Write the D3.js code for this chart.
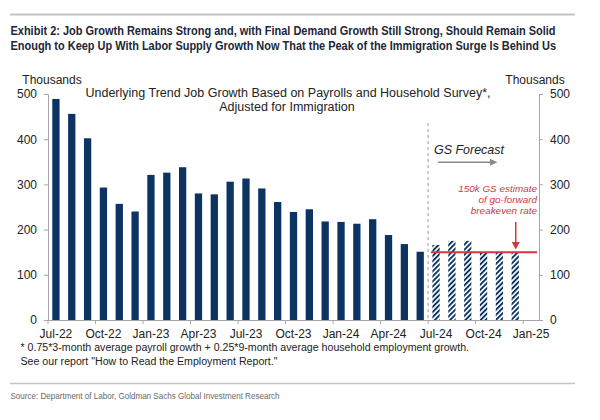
<!DOCTYPE html>
<html><head><meta charset="utf-8">
<script src="https://cdn.jsdelivr.net/npm/d3@7/dist/d3.min.js"></script>
<style>
body{margin:0;background:#fff;}
svg{display:block;font-family:"Liberation Sans",Arial,sans-serif;}
</style></head>
<body><svg id="c" width="600" height="420"></svg>
<script>
const months = ["Jul-22","Aug-22","Sep-22","Oct-22","Nov-22","Dec-22","Jan-23","Feb-23","Mar-23","Apr-23","May-23","Jun-23","Jul-23","Aug-23","Sep-23","Oct-23","Nov-23","Dec-23","Jan-24","Feb-24","Mar-24","Apr-24","May-24","Jun-24","Jul-24","Aug-24","Sep-24","Oct-24","Nov-24","Dec-24","Jan-25"];
const actualMonths = months.slice(0,24);
const actualValues = [489,456,402,293,257,240,321,326,338,280,278,306,313,291,261,239,245,218,217,213,223,188,168,151];
const forecastMonths = ["Jul-24","Aug-24","Sep-24","Oct-24","Nov-24","Dec-24"];
const forecastValues = [166,175,175,150,150,150];
const yTicks = [0,100,200,300,400,500];
const xTickLabels = ["Jul-22","Oct-22","Jan-23","Apr-23","Jul-23","Oct-23","Jan-24","Apr-24","Jul-24","Oct-24","Jan-25"];
const breakeven = 150;

const navy = "#0c3361", red = "#d2373d", axisCol = "#a6a6a6", txt = "#222";
const svg = d3.select("#c");

// shrink/grow a text's font-size so its natural width matches target
function fit(sel, target){
  const n = sel.node(); const fs = parseFloat(sel.attr("font-size"));
  const w = n.getComputedTextLength();
  if (w > 0) sel.attr("font-size", (fs*target/w).toFixed(2));
  return sel;
}
// scale horizontally (condensed look) to reach target width
function squeeze(g, target){
  const t = g.select("text"); const w = t.node().getComputedTextLength();
  const sx = target / w;
  g.attr("transform", g.attr("transform") + ` scale(${sx},1)`);
}

const defs = svg.append("defs");
const pat = defs.append("pattern").attr("id","hatch").attr("patternUnits","userSpaceOnUse")
  .attr("width",3.6).attr("height",3.6).attr("patternTransform","rotate(45)");
pat.append("rect").attr("width",3.6).attr("height",3.6).attr("fill","#fff");
pat.append("rect").attr("width",1.9).attr("height",3.6).attr("fill",navy);

const x = d3.scaleBand().domain(months).range([48,539]).paddingInner(0.54).paddingOuter(0.27);
const y = d3.scaleLinear().domain([0,500]).range([320,94]);
const step = x.step();

// rules
svg.append("line").attr("x1",10).attr("x2",575).attr("y1",14.5).attr("y2",14.5).attr("stroke","#c4c4c4").attr("stroke-width",2);
svg.append("line").attr("x1",10).attr("x2",575).attr("y1",383.5).attr("y2",383.5).attr("stroke","#c4c4c4").attr("stroke-width",1.5);

// title
const tf = '"Liberation Sans Narrow","Liberation Sans",Arial,sans-serif';
[["Exhibit 2: Job Growth Remains Strong and, with Final Demand Growth Still Strong, Should Remain Solid",34.5],
 ["Enough to Keep Up With Labor Supply Growth Now That the Peak of the Immigration Surge Is Behind Us",50]]
.forEach(([t,yy])=>{
  const g = svg.append("g").attr("transform",`translate(10.5,${yy})`);
  g.append("text").attr("x",0).attr("y",0).text(t)
    .attr("font-family",tf).attr("font-weight","bold").attr("font-size",13.2).attr("fill","#1d2738");
  squeeze(g,545.5);
});

// source
{
  const g = svg.append("g").attr("transform","translate(10.5,398.5)");
  g.append("text").text("Source: Department of Labor, Goldman Sachs Global Investment Research")
    .attr("font-family",tf).attr("font-size",9.6).attr("fill","#6a6a6a");
  squeeze(g,269);
}

// units
svg.append("text").attr("x",52).attr("y",84).attr("text-anchor","middle").attr("font-size",12).attr("fill",txt).text("Thousands");
svg.append("text").attr("x",535).attr("y",84).attr("text-anchor","middle").attr("font-size",12).attr("fill",txt).text("Thousands");

// chart subtitle
const st1 = svg.append("text").attr("x",288).attr("y",97).attr("text-anchor","middle").attr("font-size",12).attr("fill",txt)
  .text("Underlying Trend Job Growth Based on Payrolls and Household Survey*,");
fit(st1,405);
svg.append("text").attr("x",287).attr("y",111).attr("text-anchor","middle").attr("font-size",st1.attr("font-size")).attr("fill",txt)
  .text("Adjusted for Immigration");

// bars
svg.append("g").selectAll("rect").data(actualMonths).join("rect")
  .attr("x",d=>x(d)).attr("width",x.bandwidth())
  .attr("y",(d,i)=>y(actualValues[i])).attr("height",(d,i)=>y(0)-y(actualValues[i]))
  .attr("fill",navy);
svg.append("g").selectAll("rect").data(forecastMonths).join("rect")
  .attr("x",d=>x(d)).attr("width",x.bandwidth())
  .attr("y",(d,i)=>y(forecastValues[i])).attr("height",(d,i)=>y(0)-y(forecastValues[i]))
  .attr("fill","url(#hatch)");

// forecast divider
const divX = x("Jul-24") - (step - x.bandwidth())/2;
svg.append("line").attr("x1",divX).attr("x2",divX).attr("y1",123).attr("y2",y(0))
  .attr("stroke","#b0b0b0").attr("stroke-width",1.3).attr("stroke-dasharray","3,3");

// axes
function styleAxis(g){
  g.selectAll("path,line").attr("stroke",axisCol);
  g.selectAll("text").attr("font-size",12).attr("fill",txt).attr("font-family",'"Liberation Sans",Arial,sans-serif');
}
svg.append("g").attr("transform","translate(48,0)")
  .call(d3.axisLeft(y).tickValues(yTicks).tickSize(4).tickPadding(7)).call(styleAxis);
svg.append("g").attr("transform","translate(539,0)")
  .call(d3.axisRight(y).tickValues(yTicks).tickSize(4).tickPadding(7)).call(styleAxis);
const xg = svg.append("g").attr("transform",`translate(0,${y(0)})`)
  .call(d3.axisBottom(x).tickValues(xTickLabels).tickSize(4).tickSizeOuter(0).tickPadding(5)).call(styleAxis);
xg.selectAll(".tick line").attr("x1",-step/2).attr("x2",-step/2);
xg.select(".domain").attr("d",`M48,0.5H539`);

// breakeven line
const bx1 = x("Jul-24") - 1.5, bx2 = 537;
svg.append("line").attr("x1",bx1).attr("x2",bx2).attr("y1",y(breakeven)).attr("y2",y(breakeven))
  .attr("stroke",red).attr("stroke-width",2);

// red annotation
const ax = x("Dec-24") + x.bandwidth()/2 + 0.5;
svg.append("line").attr("x1",ax).attr("x2",ax).attr("y1",222).attr("y2",243).attr("stroke",red).attr("stroke-width",1.5);
svg.append("path").attr("d",`M${ax-4},242 L${ax+4},242 L${ax},249.5 Z`).attr("fill",red);
const rt = svg.append("text").attr("x",537).attr("y",191.5).attr("text-anchor","end")
  .attr("font-size",10).attr("font-style","italic").attr("fill",red).text("150k GS estimate");
fit(rt,79);
["of go-forward","breakeven rate"].forEach((t,i)=>{
  svg.append("text").attr("x",537).attr("y",202.8+i*11.3).attr("text-anchor","end")
    .attr("font-size",rt.attr("font-size")).attr("font-style","italic").attr("fill",red).text(t);
});

// GS Forecast
fit(svg.append("text").attr("x",434).attr("y",153.5).attr("font-size",12.6).attr("font-style","italic").attr("fill",txt).text("GS Forecast"),70);
svg.append("line").attr("x1",438).attr("x2",491).attr("y1",162.3).attr("y2",162.3).attr("stroke","#8a8a8a").attr("stroke-width",1.5);
svg.append("path").attr("d","M490,158.8 L497.5,162.3 L490,165.8 Z").attr("fill","#8a8a8a");

// footnote
const fn1 = svg.append("text").attr("x",20.5).attr("y",351).attr("font-size",10.9).attr("fill",txt)
  .text("* 0.75*3-month average payroll growth + 0.25*9-month average household employment growth.");
fit(fn1,448);
svg.append("text").attr("x",20.5).attr("y",364.5).attr("font-size",fn1.attr("font-size")).attr("fill",txt)
  .text("See our report \"How to Read the Employment Report.\"");
</script></body></html>
